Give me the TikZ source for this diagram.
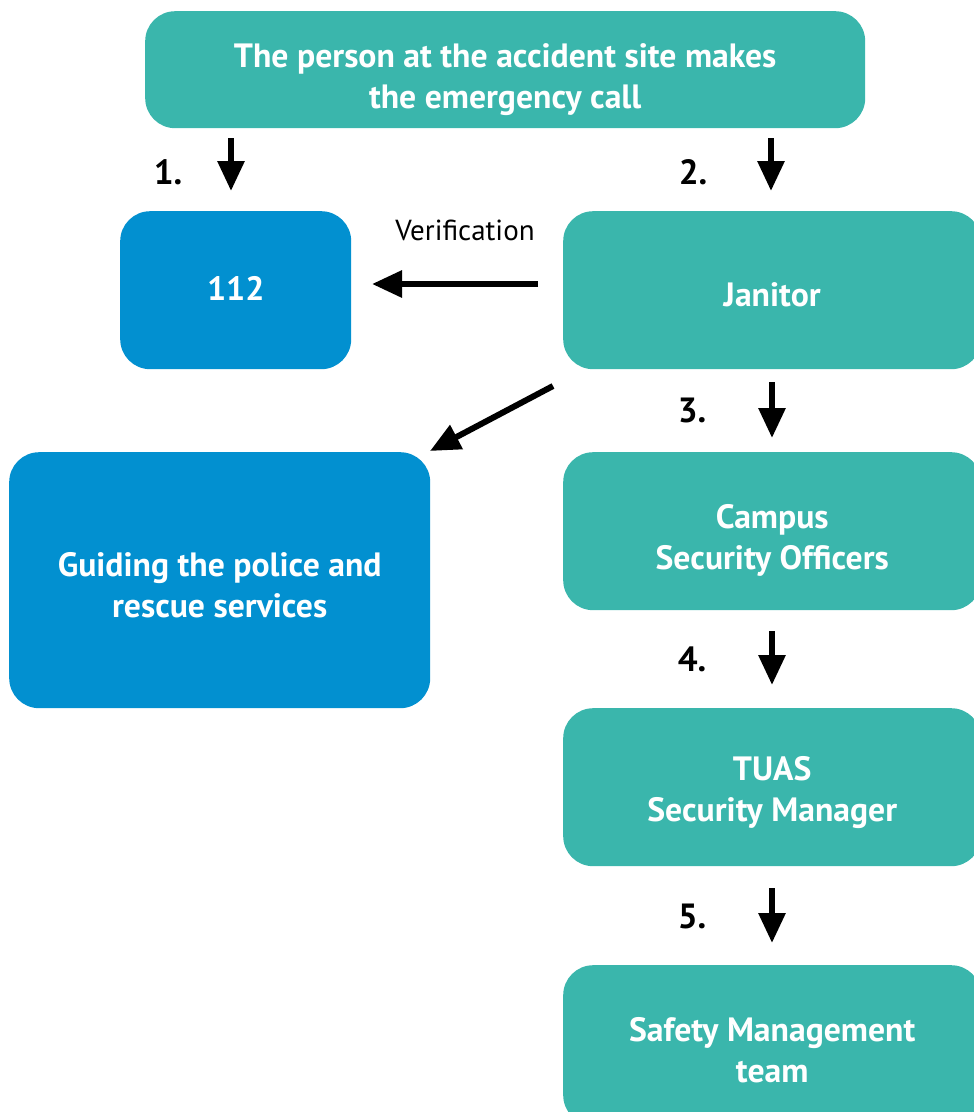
\documentclass[tikz,border=0pt]{standalone}
\usepackage{fontspec}
\setmainfont{PT Sans}
\usetikzlibrary{arrows.meta}
\definecolor{teal1}{RGB}{58,182,172}
\definecolor{blue1}{RGB}{2,144,208}
\begin{document}
\begin{tikzpicture}[x=1pt,y=-1pt,
  box/.style={rounded corners=30pt, inner sep=0pt, anchor=north west},
  tealbox/.style={box, fill=teal1},
  bluebox/.style={box, fill=blue1},
  boxtext/.style={text=white, font=\bfseries\fontsize{33.7}{41}\selectfont, align=center, yshift=-5pt},
  flowarrow/.style={line width=6pt, -{Triangle[width=26pt,length=30pt]}},
  steplabel/.style={font=\bfseries\fontsize{35}{40}\selectfont, text=black}]
\path[use as bounding box, clip] (0,0) rectangle (974,1112);
\node[tealbox, minimum width=720pt, minimum height=117pt] (top) at (145,11) {};
\node[bluebox, minimum width=231pt, minimum height=158pt] (n112) at (120,211) {};
\node[tealbox, minimum width=418pt, minimum height=158pt] (janitor) at (563,211) {};
\node[bluebox, minimum width=421pt, minimum height=256pt] (guide) at (9,452) {};
\node[tealbox, minimum width=418pt, minimum height=158pt] (campus) at (563,452) {};
\node[tealbox, minimum width=418pt, minimum height=158pt] (tuas) at (563,708) {};
\node[tealbox, minimum width=418pt, minimum height=160pt] (safety) at (563,965) {};

\node[boxtext, yshift=-5pt] (ttop) at (top.center) {The person at the accident site makes\\the emergency call};
\node[boxtext, yshift=7pt] (t112) at (n112.center) {112};
\node[boxtext] (tjan) at (janitor.center) {Janitor};
\node[boxtext] (tguide) at (guide.center) {Guiding the police and\\rescue services};
\node[boxtext, yshift=-4pt] (tcampus) at (campus.center) {Campus\\Security Officers};
\node[boxtext] (ttuas) at (tuas.center) {TUAS\\Security Manager};
\node[boxtext] (tsafety) at (safety.center) {Safety Management\\team};

\coordinate (a1s) at (231,138); \coordinate (a1e) at (231,191);
\coordinate (a2s) at (771,138); \coordinate (a2e) at (771,191);
\coordinate (avs) at (538,284); \coordinate (ave) at (372,284);
\coordinate (ads) at (553,386); \coordinate (ade) at (430,451);
\coordinate (a3s) at (772,382); \coordinate (a3e) at (772,438);
\coordinate (a4s) at (772,631); \coordinate (a4e) at (772,685);
\coordinate (a5s) at (772,888); \coordinate (a5e) at (772,943);

\draw[flowarrow] (a1s) -- (a1e);
\draw[flowarrow] (a2s) -- (a2e);
\draw[flowarrow] (avs) -- (ave);
\draw[flowarrow] (ads) -- (ade);
\draw[flowarrow] (a3s) -- (a3e);
\draw[flowarrow] (a4s) -- (a4e);
\draw[flowarrow] (a5s) -- (a5e);

\node[steplabel] (l1) at (168,172) {1.};
\node[steplabel] (l2) at (693,172) {2.};
\node[steplabel] (l3) at (692,410) {3.};
\node[steplabel] (l4) at (692,659) {4.};
\node[steplabel] (l5) at (692,916) {5.};
\node[font=\fontsize{29}{34}\selectfont] (ver) at (465,230) {Verification};
\end{tikzpicture}
\end{document}
